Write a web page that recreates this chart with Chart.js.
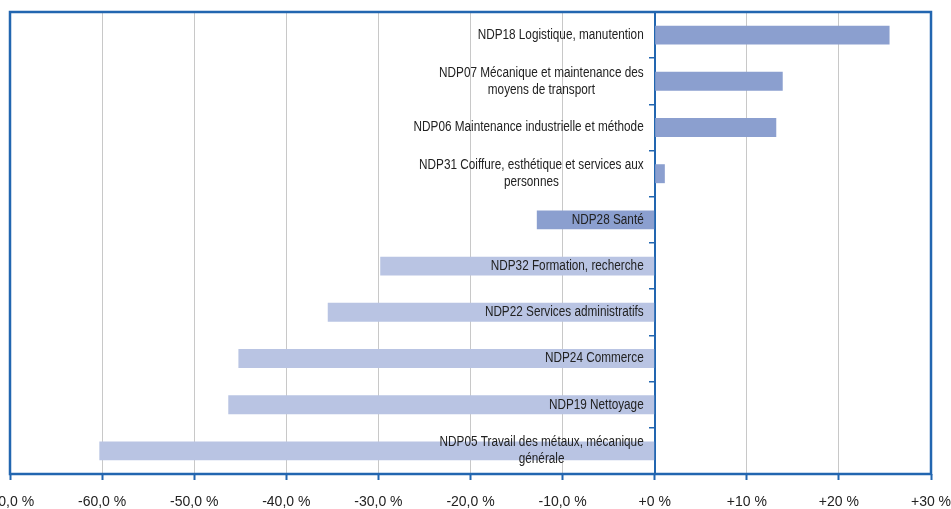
<!DOCTYPE html>
<html>
<head>
<meta charset="utf-8">
<script src="https://cdn.jsdelivr.net/npm/chart.js@4"></script>
<style>
body{margin:0;background:#fff;}
#wrap{width:951px;height:509px;position:relative;}
</style>
</head>
<body>
<div id="wrap"><canvas id="grafik"></canvas></div>
<script>
// categories (multi-line labels as arrays)
const categories = [
["NDP18 Logistique, manutention"],
["NDP07 Mécanique et maintenance des","moyens de transport"],
["NDP06 Maintenance industrielle et méthode"],
["NDP31 Coiffure, esthétique et services aux","personnes"],
["NDP28 Santé"],
["NDP32 Formation, recherche"],
["NDP22 Services administratifs"],
["NDP24 Commerce"],
["NDP19 Nettoyage"],
["NDP05 Travail des métaux, mécanique","générale"]
];

// evolution in %
const values = [25.5, 13.9, 13.2, 1.1, -12.8, -29.8, -35.5, -45.2, -46.3, -60.3];

// shade group: 1 = darker bars, 0 = lighter bars
const groups = [1,1,1,1,1,0,0,0,0,0];

const xTicks = [-70,-60,-50,-40,-30,-20,-10,0,10,20,30];
const tickLabels = ["-70,0 %","-60,0 %","-50,0 %","-40,0 %","-30,0 %","-20,0 %","-10,0 %","+0 %","+10 %","+20 %","+30 %"];

const BLUE = '#2266b0';
const FONT = "'Liberation Sans Narrow','Arial Narrow','Liberation Sans',sans-serif";

// no narrow face here, so squeeze the text a bit
const labelPlugin = {
id:'labels',
afterDatasetsDraw(chart){
const c = chart.ctx;
const xs = chart.scales.x, ys = chart.scales.y;
const right = xs.getPixelForValue(0) - 11;
const sx = 0.84;
c.save();
c.font = "14px " + FONT;
c.fillStyle = '#222';
c.textBaseline = 'middle';
c.textAlign = 'center';
const lh = 17;
categories.forEach((lines,i)=>{
const yc = ys.getPixelForValue(i);
let w = 0;
lines.forEach(l=>{w = Math.max(w, c.measureText(l).width*sx);});
const cx = right - w/2;
const y0 = yc - (lines.length-1)*lh/2;
lines.forEach((l,j)=>{
c.save();
c.translate(cx, y0 + j*lh);
c.scale(sx,1);
c.fillText(l, 0, 0);
c.restore();
});
});
c.restore();
},
afterDraw(chart){
const a = chart.chartArea, c = chart.ctx;
c.save();
c.strokeStyle = BLUE;
c.lineWidth = 2.5;
c.strokeRect(a.left, a.top, a.right-a.left, a.bottom-a.top);
c.restore();
}
};

const ctx = document.getElementById("grafik");

const chart = new Chart(ctx,{
type:'bar',
data:{
labels:categories.map((l,i)=>i),
datasets:[{
data:values,
backgroundColor:groups.map(g=>g ? '#8b9fcf' : '#b9c4e3'),
barPercentage:0.41,
categoryPercentage:1
}]
},
options:{
indexAxis:'y',
responsive:true,
maintainAspectRatio:false,
animation:false,
layout:{padding:{left:10,right:20,top:12,bottom:0}},
plugins:{legend:{display:false},tooltip:{enabled:false}},
scales:{
x:{
type:'linear',
min:-70,max:30,
afterBuildTicks(s){s.ticks = xTicks.map(v=>({value:v}));},
afterFit(s){s.height = 35; s.paddingLeft = 0; s.paddingRight = 0;},
grid:{color:'#c8c8c8',lineWidth:1,tickColor:BLUE,tickLength:6,tickWidth:2},
border:{display:false},
ticks:{
font:{family:FONT,size:14},
color:'#222',
padding:14,
maxRotation:0,
callback:(v,i)=>tickLabels[i]
}
},
y:{
type:'category',
position:{x:0},
grid:{offset:true,drawOnChartArea:false,color:BLUE,tickLength:5,lineWidth:1.5},
border:{color:BLUE,width:2},
ticks:{display:false}
}
}
},
plugins:[labelPlugin]
});
</script>
</body>
</html>
